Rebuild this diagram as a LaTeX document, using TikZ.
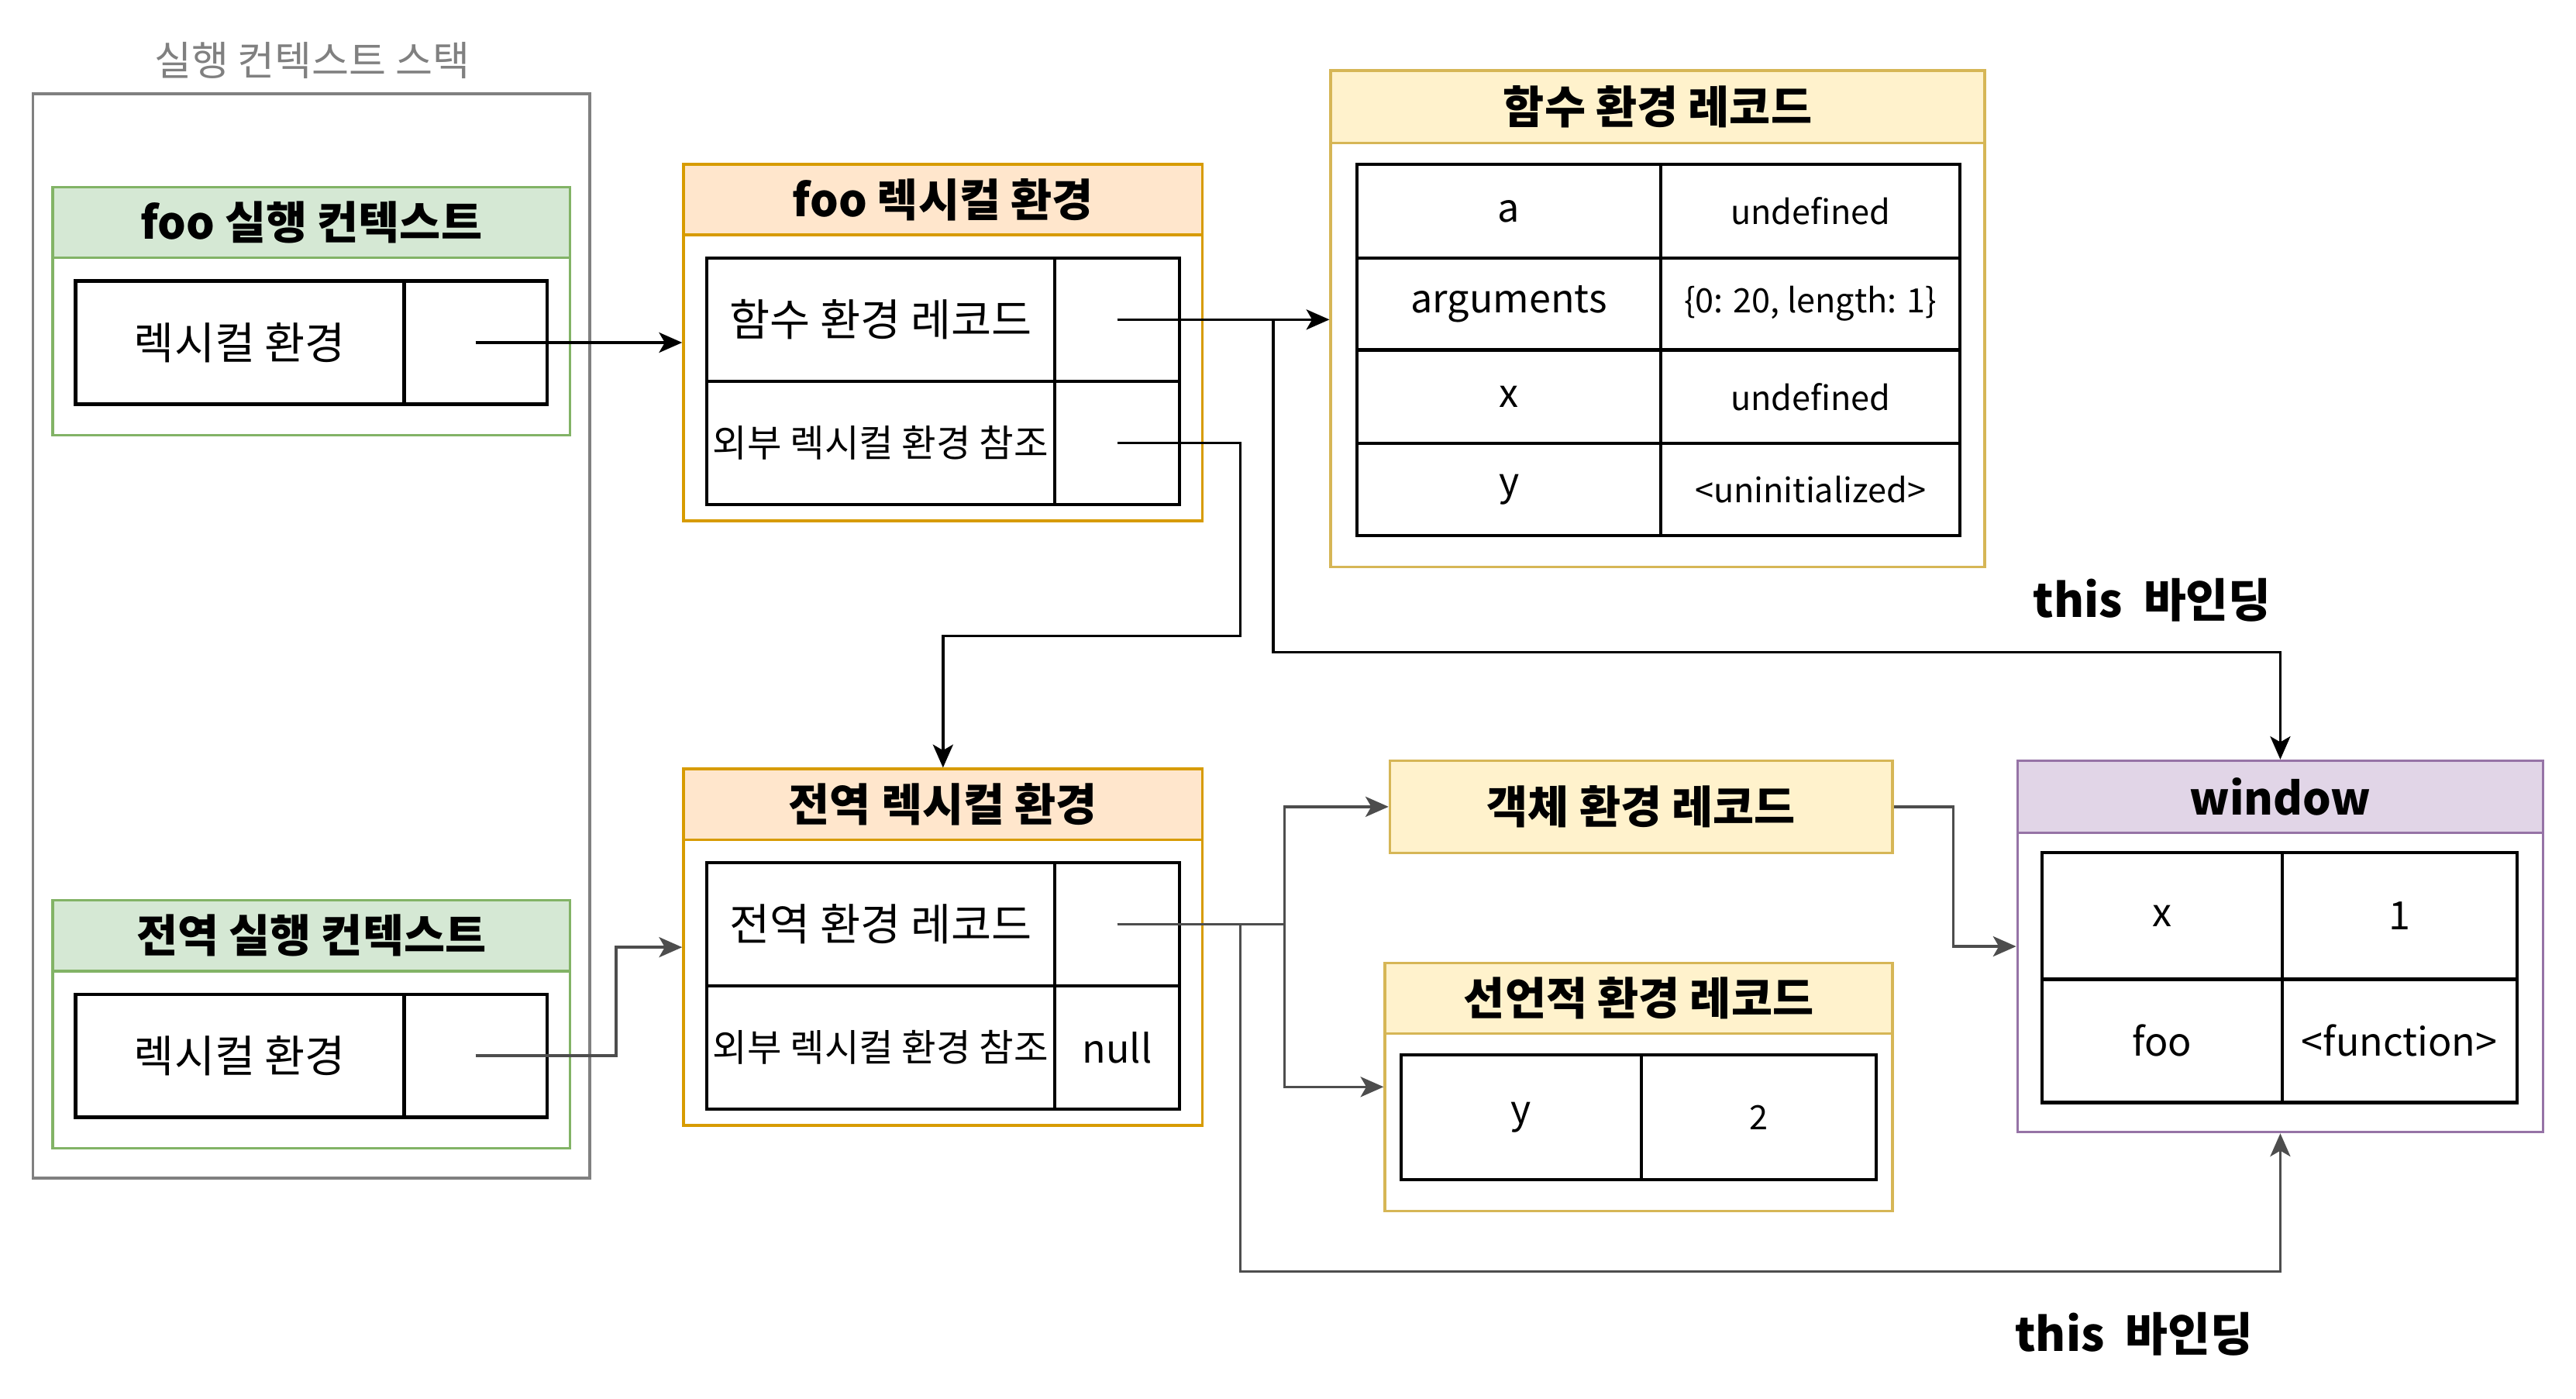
\documentclass[tikz,border=0pt]{standalone}
\usepackage{fontspec}
\setmainfont{Noto Sans CJK KR}
\usepackage{tikz}
\usetikzlibrary{arrows.meta, fit}

\definecolor{ecfill}{HTML}{D5E8D4}
\definecolor{ecline}{HTML}{82B366}
\definecolor{lefill}{HTML}{FFE6CC}
\definecolor{leline}{HTML}{D79B00}
\definecolor{erfill}{HTML}{FFF2CC}
\definecolor{erline}{HTML}{D6B656}
\definecolor{winfill}{HTML}{E1D5E7}
\definecolor{winline}{HTML}{9673A6}
\definecolor{linkgray}{HTML}{4D4D4D}
\definecolor{stackgray}{HTML}{808080}

\begin{document}
\begin{tikzpicture}[
            x=0.02cm, y=-0.02cm,                     % one unit = one pixel of the sketch
            >={Stealth[length=8pt,width=7pt,inset=2pt]},
            link/.style={->, line width=0.9pt},
            box/.style={draw=#1, fill=white, line width=0.9pt, inner sep=0pt},
            cell/.style={draw=black, line width=1.1pt, inner sep=0pt},
            headtext/.style={font=\fontsize{15.5}{18}\selectfont\bfseries},
            titletext/.style={font=\fontsize{14}{17}\selectfont},
            celltext/.style={font=\fontsize{15.2}{18}\selectfont},
            smalltext/.style={font=\fontsize{13}{15}\selectfont},
            keytext/.style={font=\fontsize{13.5}{16}\selectfont},
            valtext/.style={font=\fontsize{11.6}{14}\selectfont}
          ]
          \useasboundingbox (0,0) rectangle (1568,851);

          % 실행 컨텍스트 스택
          \node[box=stackgray, fit={(20,57) (359,717)}] (stack) {};
          \node[titletext, text=stackgray] (stacktitle) at (190,37) {실행 컨텍스트 스택};

          % foo 실행 컨텍스트
          \node[box=ecline, fit={(32,114) (347,265)}] (fooEC) {};
          \node[box=ecline, fill=ecfill, fit={(32,114) (347,157)}, label={[headtext]center:foo 실행 컨텍스트}] (fooEChead) {};
          \node[cell, fit={(46,171) (246,246)}, label={[celltext]center:렉시컬 환경}] (fooECkey) {};
          \node[cell, fit={(246,171) (333,246)}] (fooECval) {};

          % 전역 실행 컨텍스트
          \node[box=ecline, fit={(32,548) (347,699)}] (globalEC) {};
          \node[box=ecline, fill=ecfill, fit={(32,548) (347,591)}, label={[headtext]center:전역 실행 컨텍스트}] (globalEChead) {};
          \node[cell, fit={(46,605) (246,680)}, label={[celltext]center:렉시컬 환경}] (globalECkey) {};
          \node[cell, fit={(246,605) (333,680)}] (globalECval) {};

          % foo 렉시컬 환경
          \node[box=leline, fit={(416,100) (732,317)}] (fooLE) {};
          \node[box=leline, fill=lefill, fit={(416,100) (732,143)}, label={[headtext]center:foo 렉시컬 환경}] (fooLEhead) {};
          \node[cell, fit={(430,157) (642,232)}, label={[celltext]center:함수 환경 레코드}] (fooLEreckey) {};
          \node[cell, fit={(642,157) (718,232)}] (fooLErec) {};
          \node[cell, fit={(430,232) (642,307)}, label={[smalltext]center:외부 렉시컬 환경 참조}] (fooLEoutkey) {};
          \node[cell, fit={(642,232) (718,307)}] (fooLEout) {};

          % 전역 렉시컬 환경
          \node[box=leline, fit={(416,468) (732,685)}] (globalLE) {};
          \node[box=leline, fill=lefill, fit={(416,468) (732,511)}, label={[headtext]center:전역 렉시컬 환경}] (globalLEhead) {};
          \node[cell, fit={(430,525) (642,600)}, label={[celltext]center:전역 환경 레코드}] (globalLEreckey) {};
          \node[cell, fit={(642,525) (718,600)}] (globalLErec) {};
          \node[cell, fit={(430,600) (642,675)}, label={[smalltext]center:외부 렉시컬 환경 참조}] (globalLEoutkey) {};
          \node[cell, fit={(642,600) (718,675)}, label={[keytext]center:null}] (globalLEout) {};

          % 함수 환경 레코드
          \node[box=erline, fit={(810,43) (1208,345)}] (funcER) {};
          \node[box=erline, fill=erfill, fit={(810,43) (1208,87)}, label={[headtext]center:함수 환경 레코드}] (funcERhead) {};
          \node[cell, fit={(826,100) (1011,157)}, label={[keytext]center:a}] (funcERa) {};
          \node[cell, fit={(1011,100) (1193,157)}, label={[valtext]center:undefined}] (funcERaval) {};
          \node[cell, fit={(826,157) (1011,213)}, label={[keytext]center:arguments}] (funcERargs) {};
          \node[cell, fit={(1011,157) (1193,213)}, label={[valtext]center:{\{0: 20, length: 1\}}}] (funcERargsval) {};
          \node[cell, fit={(826,213) (1011,270)}, label={[keytext]center:x}] (funcERx) {};
          \node[cell, fit={(1011,213) (1193,270)}, label={[valtext]center:undefined}] (funcERxval) {};
          \node[cell, fit={(826,270) (1011,326)}, label={[keytext]center:y}] (funcERy) {};
          \node[cell, fit={(1011,270) (1193,326)}, label={[valtext]center:<uninitialized>}] (funcERyval) {};

          % 객체 환경 레코드
          \node[box=erline, fill=erfill, fit={(846,463) (1152,519)}, label={[headtext]center:객체 환경 레코드}] (objER) {};

          % 선언적 환경 레코드
          \node[box=erline, fit={(843,586) (1152,737)}] (declER) {};
          \node[box=erline, fill=erfill, fit={(843,586) (1152,629)}, label={[headtext]center:선언적 환경 레코드}] (declERhead) {};
          \node[cell, fit={(853,642) (999,718)}, label={[keytext]center:y}] (declERy) {};
          \node[cell, fit={(999,642) (1142,718)}, label={[valtext]center:2}] (declERyval) {};

          % window
          \node[box=winline, fit={(1228,463) (1548,689)}] (window) {};
          \node[box=winline, fill=winfill, fit={(1228,463) (1548,507)}, label={[headtext]center:window}] (windowhead) {};
          \node[cell, fit={(1243,519) (1389,596)}, label={[keytext]center:x}] (windowx) {};
          \node[cell, fit={(1389,519) (1532,596)}, label={[keytext]center:1}] (windowxval) {};
          \node[cell, fit={(1243,596) (1389,671)}, label={[keytext]center:foo}] (windowfoo) {};
          \node[cell, fit={(1389,596) (1532,671)}, label={[keytext]center:<function>}] (windowfooval) {};

          \node[headtext, font=\fontsize{16}{19}\selectfont\bfseries] (thislabel) at (1310,365) {this~ 바인딩};
          \node[headtext, font=\fontsize{16}{19}\selectfont\bfseries] (thislabel2) at (1299,812) {this~ 바인딩};

          % bends
          \coordinate (thisbend) at (775,397);
          \coordinate (outerbend) at (755,387);
          \coordinate (ecbend) at (375,610);
          \coordinate (objbend) at (782,530);
          \coordinate (thisbend2) at (755,774);
          \coordinate (winbend) at (1189,530);

          \draw[link] (fooECval.center) -- (fooLE.west);
          \draw[link] (fooLErec.center) -- (fooLErec.center -| funcER.west);
          \draw[link] (fooLErec.center) -| (thisbend) -| (window.north);
          \draw[link] (fooLEout.center) -| (outerbend) -| (globalLE.north);

          \draw[link, linkgray] (globalECval.center) -| (ecbend) |- (globalLE.west);
          \draw[link, linkgray] (globalLErec.center) -| (objbend) |- (objER.west);
          \draw[link, linkgray] (globalLErec.center) -| (objbend) |- (declER.west);
          \draw[link, linkgray] (globalLErec.center) -| (thisbend2) -| (window.south);
          \draw[link, linkgray] (objER.east) -| (winbend) |- (window.west);
        \end{tikzpicture}
\end{document}
